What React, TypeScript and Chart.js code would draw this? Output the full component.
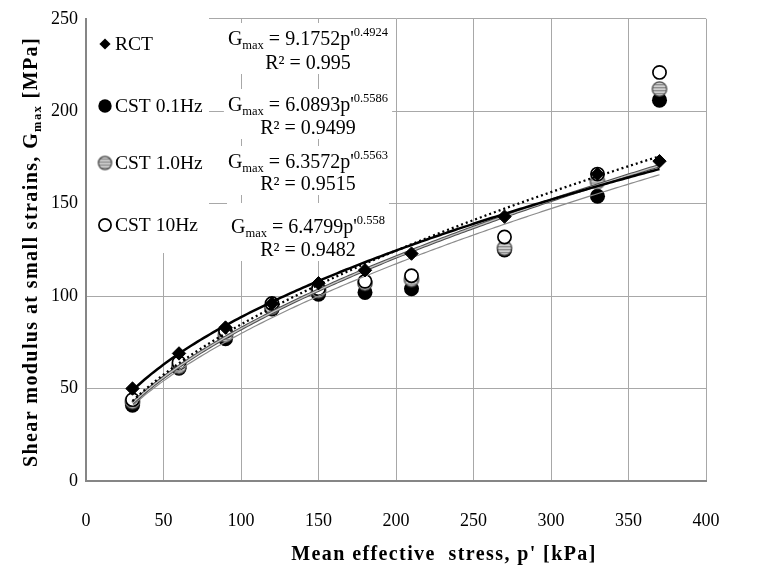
import { useEffect, useRef } from 'react';
import { Chart, registerables } from 'chart.js';

Chart.register(...registerables);

const FONT = '"Liberation Serif", "Times New Roman", serif';

// Mean effective stress p' [kPa]
const meanStress = [30, 60, 90, 120, 150, 180, 210, 270, 330, 370];
// Gmax [MPa]
const gmaxRCT = [50, 69, 83, 96, 107, 114, 123, 143, 166, 173];
const gmaxCST01 = [41, 61, 77, 93, 101, 102, 104, 125, 154, 206];
const gmaxCST1 = [43, 62, 79, 94, 103, 107, 109, 126, 162, 212];
const gmaxCST10 = [44, 64, 81, 96, 104, 108, 111, 132, 166, 221];

const seriesNames = ['RCT', 'CST 0.1Hz', 'CST 1.0Hz', 'CST 10Hz'];
// Power trendlines  Gmax = a * p'^b
const fitCoef = ['9.1752', '6.0893', '6.3572', '6.4799'];
const fitExp = ['0.4924', '0.5586', '0.5563', '0.558'];
const fitR2 = ['0.995', '0.9499', '0.9515', '0.9482'];

const xMax = 400;
const yMax = 250;
const tickStep = 50;

function fitCurve(i: number) {
  const a = parseFloat(fitCoef[i]);
  const b = parseFloat(fitExp[i]);
  const lo = Math.min(...meanStress);
  const hi = Math.max(...meanStress);
  const pts: { x: number; y: number }[] = [];
  for (let p = lo; p <= hi; p += 2) pts.push({ x: p, y: a * Math.pow(p, b) });
  return pts;
}

function toPts(ys: number[]) {
  return meanStress.map((x, i) => ({ x, y: ys[i] }));
}

function stripedMarker(r: number) {
  const s = Math.ceil(r * 2 + 3);
  const c = document.createElement('canvas');
  c.width = s;
  c.height = s;
  const g = c.getContext('2d')!;
  const m = s / 2;
  g.save();
  g.beginPath();
  g.arc(m, m, r, 0, Math.PI * 2);
  g.clip();
  g.fillStyle = '#d2d2d2';
  g.fillRect(0, 0, s, s);
  g.fillStyle = '#8a8a8a';
  for (let y = 1; y < s; y += 3) g.fillRect(0, y, s, 1.3);
  g.restore();
  g.beginPath();
  g.arc(m, m, r, 0, Math.PI * 2);
  g.strokeStyle = '#4a4a4a';
  g.lineWidth = 1.3;
  g.stroke();
  return c;
}

export default function App() {
  const ref = useRef<HTMLCanvasElement>(null);

  useEffect(() => {
    const canvas = ref.current!;
    const striped = stripedMarker(7.2);
    const stripedLegend = stripedMarker(6.6);

    const overlay = {
      id: 'overlay',
      beforeDatasetsDraw(chart: any) {
        const ctx: CanvasRenderingContext2D = chart.ctx;
        ctx.save();
        // legend box
        ctx.fillStyle = '#ffffff';
        ctx.fillRect(87, 15, 122, 238);
        const rows = [44, 106, 163, 225];
        const mx = 105;
        rows.forEach((ry, i) => {
          ctx.beginPath();
          if (i === 0) {
            ctx.moveTo(mx - 5.6, ry);
            ctx.lineTo(mx, ry - 5.6);
            ctx.lineTo(mx + 5.6, ry);
            ctx.lineTo(mx, ry + 5.6);
            ctx.closePath();
            ctx.fillStyle = '#000';
            ctx.fill();
          } else if (i === 1) {
            ctx.arc(mx, ry, 6.7, 0, Math.PI * 2);
            ctx.fillStyle = '#000';
            ctx.fill();
          } else if (i === 2) {
            ctx.drawImage(stripedLegend, mx - stripedLegend.width / 2, ry - stripedLegend.height / 2);
          } else {
            ctx.arc(mx, ry, 6.1, 0, Math.PI * 2);
            ctx.fillStyle = '#fff';
            ctx.fill();
            ctx.lineWidth = 1.7;
            ctx.strokeStyle = '#000';
            ctx.stroke();
          }
          ctx.fillStyle = '#000';
          ctx.font = `19.5px ${FONT}`;
          ctx.textAlign = 'left';
          ctx.textBaseline = 'middle';
          ctx.fillText(seriesNames[i], 115, ry + 1);
        });

        // equation labels
        const cx = 308;
        const eqRows = [
          [38, 62],
          [104, 127],
          [161, 183],
          [226, 249],
        ];
        eqRows.forEach(([yG, yR], i) => {
          const big = `20px ${FONT}`;
          const small = `12.5px ${FONT}`;
          ctx.textAlign = 'left';
          ctx.textBaseline = 'alphabetic';
          ctx.font = big;
          const wG = ctx.measureText('G').width;
          const mid = ` = ${fitCoef[i]}p'`;
          const wMid = ctx.measureText(mid).width;
          ctx.font = small;
          const wSub = ctx.measureText('max').width;
          const wSup = ctx.measureText(fitExp[i]).width;
          const total = wG + wSub + wMid + wSup;
          ctx.font = big;
          const r2 = `R² = ${fitR2[i]}`;
          const wR = ctx.measureText(r2).width;
          const bw = Math.max(total, wR) + 8;
          ctx.fillStyle = '#fff';
          const top = i === 3 ? 203 : yG - 15;
          ctx.fillRect(cx - bw / 2, top, bw, yR + 12 - top);
          ctx.fillStyle = '#000';
          let x = cx - total / 2;
          const base = yG + 6.5;
          ctx.font = big;
          ctx.fillText('G', x, base);
          x += wG;
          ctx.font = small;
          ctx.fillText('max', x, base + 4);
          x += wSub;
          ctx.font = big;
          ctx.fillText(mid, x, base);
          x += wMid;
          ctx.font = small;
          ctx.fillText(fitExp[i], x, base - 9);
          ctx.font = big;
          ctx.fillText(r2, cx - wR / 2, yR + 6.5);
        });
        ctx.restore();
      },
      afterDraw(chart: any) {
        const ctx: CanvasRenderingContext2D = chart.ctx;
        ctx.save();
        // axis titles
        ctx.fillStyle = '#000';
        ctx.font = `bold 20px ${FONT}`;
        (ctx as any).letterSpacing = '1.4px';
        ctx.textAlign = 'center';
        ctx.textBaseline = 'middle';
        ctx.fillText("Mean effective  stress, p' [kPa]", 444, 555);

        // y title with subscript
        ctx.translate(30, 252);
        ctx.rotate(-Math.PI / 2);
        (ctx as any).letterSpacing = '1.4px';
        const p1 = 'Shear modulus at small strains, G';
        const p3 = ' [MPa]';
        ctx.font = `bold 20px ${FONT}`;
        const w1 = ctx.measureText(p1).width;
        const w3 = ctx.measureText(p3).width;
        ctx.font = `bold 12.5px ${FONT}`;
        const w2 = ctx.measureText('max').width;
        const tot = w1 + w2 + w3;
        ctx.textAlign = 'left';
        ctx.textBaseline = 'alphabetic';
        let x = -tot / 2;
        ctx.font = `bold 20px ${FONT}`;
        ctx.fillText(p1, x, 7);
        x += w1;
        ctx.font = `bold 12.5px ${FONT}`;
        ctx.fillText('max', x, 11);
        x += w2;
        ctx.font = `bold 20px ${FONT}`;
        ctx.fillText(p3, x, 7);
        ctx.restore();
      },
    };

    const chart = new Chart(canvas, {
      type: 'scatter',
      data: {
        datasets: [
          {
            label: seriesNames[0],
            data: toPts(gmaxRCT),
            pointStyle: 'rectRot',
            pointRadius: 6.7,
            backgroundColor: '#000',
            borderColor: '#000',
            borderWidth: 1,
            order: 0,
          },
          {
            label: 'RCT fit',
            data: fitCurve(0),
            showLine: true,
            pointRadius: 0,
            borderColor: '#000',
            borderWidth: 2.5,
            order: 1,
          },
          {
            label: 'CST 10Hz fit',
            data: fitCurve(3),
            showLine: true,
            pointRadius: 0,
            borderColor: '#000',
            borderWidth: 2.3,
            borderDash: [2, 3],
            order: 2,
          },
          {
            label: 'CST 1.0Hz fit inner',
            data: fitCurve(2),
            showLine: true,
            pointRadius: 0,
            borderColor: '#c4c4c4',
            borderWidth: 1.3,
            order: 3,
          },
          {
            label: 'CST 1.0Hz fit',
            data: fitCurve(2),
            showLine: true,
            pointRadius: 0,
            borderColor: '#505050',
            borderWidth: 3.4,
            order: 4,
          },
          {
            label: 'CST 0.1Hz fit',
            data: fitCurve(1),
            showLine: true,
            pointRadius: 0,
            borderColor: '#8c8c8c',
            borderWidth: 1.2,
            order: 5,
          },
          {
            label: seriesNames[3],
            data: toPts(gmaxCST10),
            pointStyle: 'circle',
            pointRadius: 6.6,
            backgroundColor: '#fff',
            borderColor: '#000',
            borderWidth: 1.7,
            order: 6,
          },
          {
            label: seriesNames[2],
            data: toPts(gmaxCST1),
            pointStyle: striped as any,
            pointRadius: 7.5,
            order: 7,
          },
          {
            label: seriesNames[1],
            data: toPts(gmaxCST01),
            pointStyle: 'circle',
            pointRadius: 7.5,
            backgroundColor: '#000',
            borderColor: '#000',
            borderWidth: 0,
            order: 8,
          },
        ],
      },
      options: {
        responsive: false,
        animation: false,
        layout: { padding: { left: 0, right: 54, top: 13, bottom: 0 } },
        plugins: {
          legend: { display: false },
          tooltip: { enabled: false },
          title: { display: false },
        },
        scales: {
          x: {
            type: 'linear',
            min: 0,
            max: xMax,
            ticks: {
              stepSize: tickStep,
              color: '#000',
              font: { family: FONT, size: 18 },
              padding: 29,
              maxRotation: 0,
            },
            grid: { color: '#a8a8a8', lineWidth: 1, drawTicks: false },
            border: { color: '#868686', width: 2 },
            afterFit: (s: any) => {
              s.height = 94;
            },
          },
          y: {
            type: 'linear',
            min: 0,
            max: yMax,
            ticks: {
              stepSize: tickStep,
              color: '#000',
              font: { family: FONT, size: 18 },
              padding: 8,
            },
            grid: { color: '#a8a8a8', lineWidth: 1, drawTicks: false },
            border: { color: '#868686', width: 2 },
            afterFit: (s: any) => {
              s.width = 86;
            },
          },
        },
      },
      plugins: [overlay],
    });

    return () => chart.destroy();
  }, []);

  return (
    <div style={{ position: 'fixed', left: 0, top: 0, width: 760, height: 575, background: '#fff' }}>
      <canvas ref={ref} width={760} height={575} style={{ display: 'block' }} />
    </div>
  );
}
